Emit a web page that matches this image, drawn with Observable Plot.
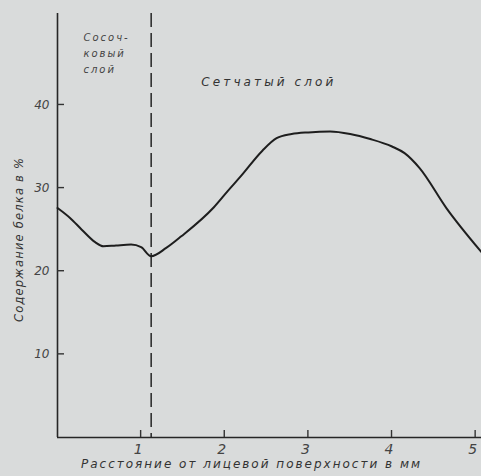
<!DOCTYPE html>
<html>
<head>
<meta charset="utf-8">
<script src="https://cdn.jsdelivr.net/npm/d3@7"></script>
<script src="https://cdn.jsdelivr.net/npm/@observablehq/plot@0.6"></script>
<style>
  html, body { margin: 0; padding: 0; background: #d9dbdb; }
  #chart svg { display: block; background: #d9dbdb; }
</style>
</head>
<body>
<div id="chart"></div>
<script>
// Protein content across skin depth (distance from the grain surface, mm)
const depthMm = [0, 0.15, 0.29, 0.45, 0.55, 0.7, 0.88, 1.0, 1.12, 1.3, 1.48, 1.87, 2.04, 2.19, 2.45, 2.62, 2.8, 3.0, 3.26, 3.5, 3.74, 4.0, 4.15, 4.33, 4.65, 5.07];
const proteinPct = [27.6, 26.4, 25.0, 23.5, 23.0, 23.1, 23.2, 22.9, 21.8, 22.8, 24.2, 27.7, 29.7, 31.4, 34.5, 36.0, 36.5, 36.7, 36.8, 36.5, 35.9, 35.0, 34.2, 32.4, 27.6, 22.3];

const xTicks = [1, 2, 3, 4, 5];
const yTicks = [10, 20, 30, 40];
const layerBoundary = [1.12];

const papillaryLabel = ["Сосоч-", "ковый", "слой"];
const reticularLabel = ["Сетчатый слой"];
const xTitle = "Расстояние от лицевой поверхности в мм";
const yTitle = "Содержание белка в %";

const data = depthMm.map((d, i) => ({x: d, y: proteinPct[i]}));
const font = "'DejaVu Sans', sans-serif";
const ink = "#262626";

const chart = Plot.plot({
  width: 481,
  height: 476,
  marginLeft: 57,
  marginRight: 0,
  marginTop: 13,
  marginBottom: 39,
  style: {fontFamily: font, fontStyle: "italic", color: ink, background: "#d9dbdb"},
  x: {domain: [0, 5.07]},
  y: {domain: [0, 51]},
  marks: [
    // axes drawn as plain rules
    Plot.ruleX([0], {stroke: ink, strokeWidth: 1.6}),
    Plot.ruleY([0], {stroke: ink, strokeWidth: 1.6}),
    Plot.axisY({ticks: yTicks, tickSize: 0, tickPadding: 8, fontSize: 12, label: null, fill: "#444"}),
    Plot.axisX({ticks: xTicks, tickSize: 0, tickPadding: 7, fontSize: 14, label: null, fill: "#444", dx: -3, tickFormat: "d"}),
    // boundary between papillary and reticular layers
    Plot.ruleX(layerBoundary, {stroke: ink, strokeWidth: 1.5, strokeDasharray: "14,6"}),
    // protein curve
    Plot.line(data, {x: "x", y: "y", curve: "monotone-x", stroke: "#1e1e1e", strokeWidth: 2}),
    // layer labels
    Plot.text(papillaryLabel, {
      x: 0.31, y: (d, i) => 48.1 - i * 1.95, text: d => d,
      textAnchor: "start", fontSize: 10, fill: "#444"
    }),
    Plot.text(reticularLabel, {
      x: 1.72, y: 42.8, text: d => d,
      textAnchor: "start", fontSize: 12, fill: "#333"
    }),
    // axis titles
    Plot.text([yTitle], {
      frameAnchor: "left", textAnchor: "middle", dx: -38, dy: 14, rotate: -90, text: d => d,
      fontSize: 11.5, fill: "#333"
    }),
    Plot.text([xTitle], {
      frameAnchor: "bottom", dy: 30, dx: -18, text: d => d,
      fontSize: 12, fill: "#333"
    })
  ]
});

// short inward tick marks, placed with the chart's own x and y scales
const sx = chart.scale("x"), sy = chart.scale("y");
const tickLen = 7;
const ticks = d3.select(chart).append("g")
  .attr("stroke", "#333")
  .attr("stroke-width", 1.4);
ticks.selectAll("line.ty").data(yTicks).join("line")
  .attr("class", "ty")
  .attr("x1", sx.apply(0)).attr("x2", sx.apply(0) + tickLen)
  .attr("y1", d => sy.apply(d)).attr("y2", d => sy.apply(d));
ticks.selectAll("line.tx").data(xTicks).join("line")
  .attr("class", "tx")
  .attr("x1", d => sx.apply(d)).attr("x2", d => sx.apply(d))
  .attr("y1", sy.apply(0)).attr("y2", sy.apply(0) - tickLen);

// wide drafting-style letter spacing for the labels
const spacing = new Map([
  ...papillaryLabel.map(t => [t, 2]),
  [reticularLabel[0], 3.1],
  [yTitle, 1.2],
  [xTitle, 2.0]
]);
d3.select(chart).selectAll("text").each(function () {
  const s = spacing.get(this.textContent);
  if (s != null) this.setAttribute("letter-spacing", s);
});

document.getElementById("chart").appendChild(chart);
</script>
</body>
</html>
